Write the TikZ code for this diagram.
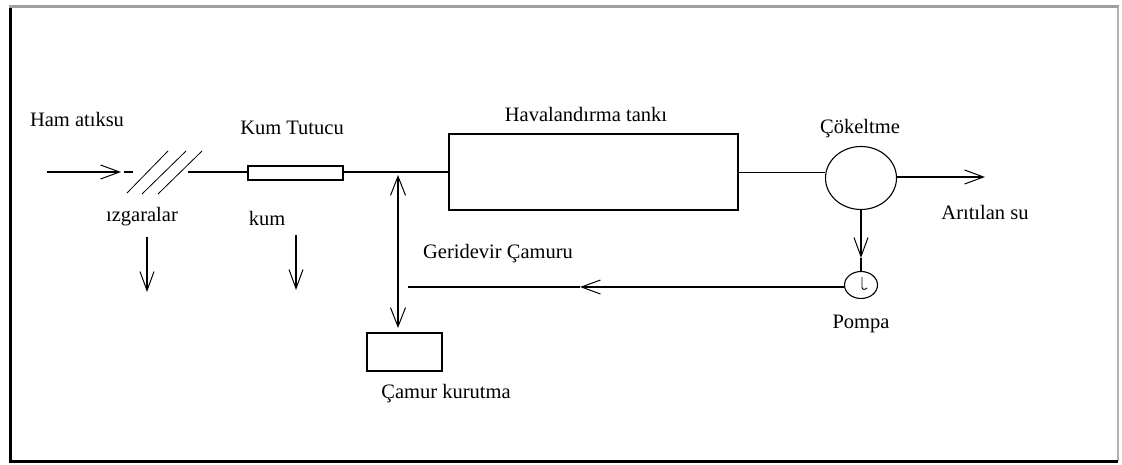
\documentclass[tikz,border=0pt]{standalone}
\usepackage{fontspec}
\setmainfont{Liberation Serif}
\usetikzlibrary{arrows.meta,shapes.geometric}
\begin{document}
\begin{tikzpicture}[x=1pt,y=-1pt,
  line width=1.1pt,
  lbl/.style={font=\fontsize{20.5}{22}\selectfont, inner sep=0pt},
  rectbox/.style={draw, line width=1.1pt, inner sep=0pt},
  ellbox/.style={draw, ellipse, line width=1.1pt, inner sep=0pt},
  arr/.style={-{Straight Barb[length=19pt,width=14pt,line width=1pt]}},
  darr/.style={{Straight Barb[length=19pt,width=15pt,line width=1pt]}-{Straight Barb[length=19pt,width=15pt,line width=1pt]}},
  thinline/.style={line width=0.8pt}]
\useasboundingbox (0,0) rectangle (1122,465);
% frame
\draw[gray!75, line width=3pt] (9,7) -- (1119,7);
\draw[gray!60, line width=1.5pt] (1118,7) -- (1118,461);
\draw[black, line width=3pt] (10.5,8) -- (10.5,461) -- (1118,461);

% labels
\node[lbl] (ham) at (77,119) {Ham atıksu};
\node[lbl] (kumt) at (292,128) {Kum Tutucu};
\node[lbl] (hav) at (586,114) {Havalandırma tankı};
\node[lbl] (cokl) at (860,129) {Çökeltme};
\node[lbl] (aril) at (985,212) {Arıtılan su};
\node[lbl] (izg) at (142,217) {ızgaralar};
\node[lbl] (kum) at (267,218) {kum};
\node[lbl] (ger) at (498,254) {Geridevir Çamuru};
\node[lbl] (pompal) at (861,324) {Pompa};
\node[lbl] (kurl) at (446,394) {Çamur kurutma};

% shapes
\node[rectbox, minimum width=95pt, minimum height=14pt] (kt) at (295.5,173) {};
\node[rectbox, minimum width=289pt, minimum height=76pt] (tank) at (593.5,172) {};
\node[ellbox, minimum width=71pt, minimum height=63pt] (cok) at (861,178) {};
\node[ellbox, minimum width=33pt, minimum height=27pt] (pump) at (861,285) {};
\node[rectbox, minimum width=75pt, minimum height=38pt] (kur) at (404.5,352) {};

% inlet and screen
\coordinate (in0) at (47,172);
\coordinate (in1) at (121,172);
\coordinate (d0) at (124,172);
\coordinate (d1) at (133,172);
\draw[arr] (in0) -- (in1);
\draw (d0) -- (d1);
\draw[thinline] (127,193) -- (168,151);
\draw[thinline] (142,194) -- (186,151);
\draw[thinline] (158,194) -- (202,151);
\coordinate (g1) at (188,172);
\draw (g1) -- (kt.west |- g1);
\draw (kt.east |- tank.west) -- (tank.west);

% tank to clarifier
\draw[thinline] (tank.east) -- (tank.east -| cok.west);
\coordinate (out) at (985,177);
\draw[arr] (cok.east |- out) -- (out);

% clarifier to pump
\coordinate (pa) at (861,258);
\draw[arr] (cok.south) -- (pa);
\draw (pa) -- (pump.north);
\draw[line width=0.9pt] (862,277) -- (862,287) .. controls (862,290) and (865,290) .. (867,288);

% return sludge
\coordinate (r1) at (580,287);
\coordinate (r2) at (408,287);
\draw[arr] (pump.west |- r1) -- (r1);
\draw (r1) -- (r2);

% double arrow to sludge drying
\coordinate (jt) at (398,175);
\coordinate (jb) at (398,328);
\draw[darr] (jt) -- (jb);

% waste arrows
\coordinate (w1a) at (147,237);
\coordinate (w1b) at (147,292);
\coordinate (w2a) at (296,235);
\coordinate (w2b) at (296,290);
\draw[arr] (w1a) -- (w1b);
\draw[arr] (w2a) -- (w2b);
\end{tikzpicture}
\end{document}
